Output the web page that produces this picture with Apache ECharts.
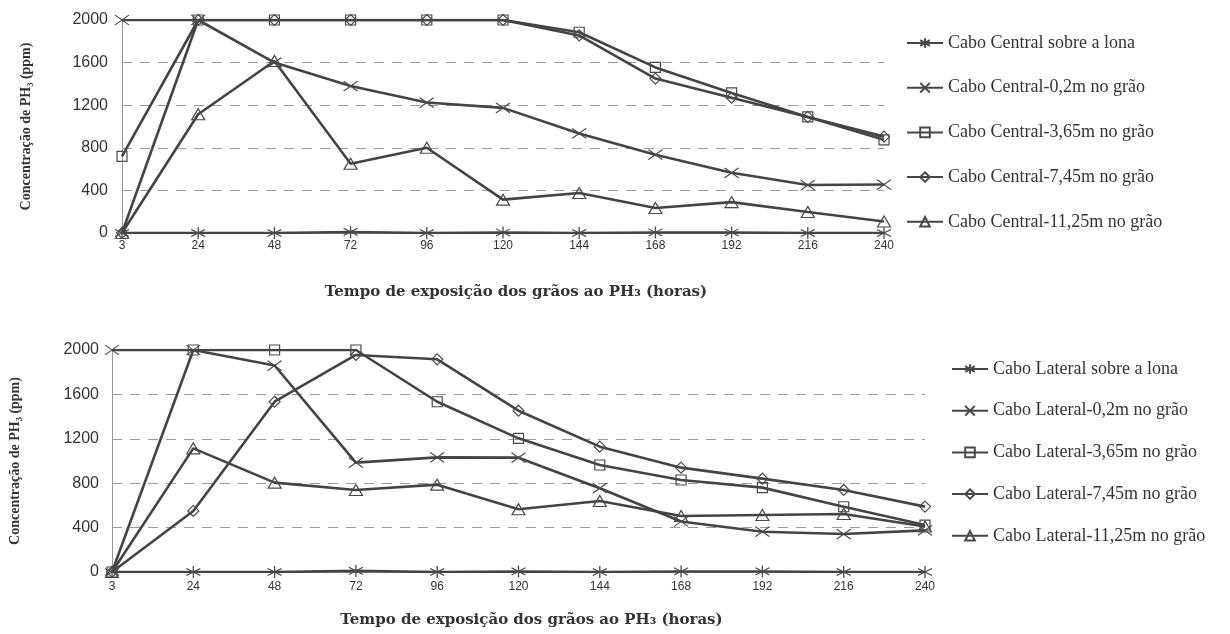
<!DOCTYPE html>
<html>
<head>
<meta charset="utf-8">
<script src="https://cdn.jsdelivr.net/npm/echarts@6/dist/echarts.min.js"></script>
<style>
  html, body { margin: 0; padding: 0; background: #fff; }
  #chart { width: 1230px; height: 634px; }
</style>
</head>
<body>
<div id="chart"></div>
<script>
// Sampling times (hours)
const hours = ['3', '24', '48', '72', '96', '120', '144', '168', '192', '216', '240'];

// Central cable, PH3 concentration (ppm)
const centralNames = [
  'Cabo Central sobre a lona',
  'Cabo Central-0,2m no grão',
  'Cabo Central-3,65m no grão',
  'Cabo Central-7,45m no grão',
  'Cabo Central-11,25m no grão'
];
const centralLona = [0, 0, 0, 10, 0, 5, 0, 5, 5, 0, 0];
const central02   = [2000, 2000, 1600, 1380, 1225, 1175, 935, 735, 565, 450, 455];
const central365  = [720, 2000, 2000, 2000, 2000, 2000, 1885, 1555, 1315, 1090, 875];
const central745  = [0, 2000, 2000, 2000, 2000, 2000, 1855, 1450, 1270, 1090, 905];
const central1125 = [0, 1115, 1615, 650, 800, 313, 375, 235, 290, 197, 108];

// Lateral cable, PH3 concentration (ppm)
const lateralNames = [
  'Cabo Lateral sobre a lona',
  'Cabo Lateral-0,2m no grão',
  'Cabo Lateral-3,65m no grão',
  'Cabo Lateral-7,45m no grão',
  'Cabo Lateral-11,25m no grão'
];
const lateralLona = [0, 0, 0, 10, 0, 5, 0, 5, 5, 0, 0];
const lateral02   = [2000, 2000, 1860, 985, 1033, 1030, 755, 455, 363, 342, 375];
const lateral365  = [0, 2000, 2000, 2000, 1534, 1204, 964, 829, 760, 588, 423];
const lateral745  = [0, 550, 1534, 1955, 1916, 1453, 1129, 940, 841, 739, 589];
const lateral1125 = [0, 1114, 805, 739, 787, 565, 640, 505, 514, 523, 410];

// Concentration ticks
const yTicks = { min: 0, max: 2000, interval: 400 };

// Marker shapes drawn as outlines
const markers = [
  { symbol: 'path://M10,0L10,20M0,4L20,16M0,16L20,4', size: [14, 12] },   // asterisk
  { symbol: 'path://M0,0L20,20M0,20L20,0', size: [14, 10] },              // cross
  { symbol: 'path://M0,0L20,0L20,20L0,20Z', size: [10, 10] },             // square
  { symbol: 'path://M10,0L20,10L10,20L0,10Z', size: [11, 11] },           // diamond
  { symbol: 'path://M10,0L20,17L0,17Z', size: [13, 11] }                  // triangle
];

const lineColor = '#444';
const inkColor = '#333';
const serif = '"Liberation Serif", "Times New Roman", serif';
const sans = '"Liberation Sans", Arial, sans-serif';

function makeSeries(names, values, axisIndex) {
  return names.map((name, i) => ({
    name: name,
    type: 'line',
    xAxisIndex: axisIndex,
    yAxisIndex: axisIndex,
    data: values[i],
    symbol: markers[i].symbol,
    symbolSize: markers[i].size,
    showAllSymbol: true,
    lineStyle: { color: lineColor, width: 2.6 },
    itemStyle: { color: 'none', borderColor: '#4a4a4a', borderWidth: 1.2 },
    emphasis: { disabled: true },
    z: 3
  }));
}

function makeXAxis(gridIndex, nameGap, labelMargin) {
  return {
    type: 'category',
    gridIndex: gridIndex,
    data: hours,
    boundaryGap: false,
    axisLine: { show: true, lineStyle: { color: '#999', width: 1 } },
    axisTick: { show: false },
    axisLabel: { interval: 0, color: inkColor, fontFamily: sans, fontSize: 12, margin: labelMargin },
    splitLine: { show: false },
    name: 'Tempo de exposição dos grãos ao PH₃ (horas)',
    nameLocation: 'middle',
    nameGap: nameGap,
    nameTextStyle: {
      fontFamily: '"DejaVu Serif", serif',
      fontWeight: 'bold',
      fontSize: 15,
      color: inkColor,
      padding: [0, 0, 0, 26]
    }
  };
}

function makeYAxis(gridIndex, labelMargin, nameGap) {
  return {
    type: 'value',
    gridIndex: gridIndex,
    min: yTicks.min,
    max: yTicks.max,
    interval: yTicks.interval,
    axisLine: { show: true, lineStyle: { color: '#999', width: 1 } },
    axisTick: { show: false },
    axisLabel: {
      color: inkColor,
      fontFamily: sans,
      fontSize: 16,
      margin: labelMargin,
      formatter: (v) => String(v)
    },
    splitLine: {
      show: true,
      lineStyle: {
        color: ['transparent', '#9a9a9a', '#9a9a9a', '#9a9a9a', '#9a9a9a', 'transparent'],
        type: [10, 8],
        width: 1.2
      }
    },
    name: 'Concentração de PH₃ (ppm)',
    nameLocation: 'middle',
    nameGap: nameGap,
    nameTextStyle: {
      fontFamily: serif,
      fontWeight: 'bold',
      fontSize: 14,
      color: inkColor
    }
  };
}

function makeLegend(names, left, top, gap) {
  return {
    data: names,
    orient: 'vertical',
    left: left,
    top: top,
    itemWidth: 36,
    itemHeight: 12,
    itemGap: gap,
    selectedMode: false,
    textStyle: { fontFamily: serif, fontSize: 18, color: inkColor, lineHeight: 20 }
  };
}

const chart = echarts.init(document.getElementById('chart'), null, { renderer: 'canvas' });

chart.setOption({
  animation: false,
  backgroundColor: '#fff',
  grid: [
    { left: 122, width: 762, top: 20, height: 213 },
    { left: 110, width: 815, top: 350, height: 222 }
  ],
  xAxis: [makeXAxis(0, 52, 7), makeXAxis(1, 41, 9)],
  yAxis: [makeYAxis(0, 14, 89), makeYAxis(1, 13, 90)],
  legend: [
    makeLegend(centralNames, 901, 28, 24.7),
    makeLegend(lateralNames, 946, 354, 21.7)
  ],
  series: [
    ...makeSeries(centralNames, [centralLona, central02, central365, central745, central1125], 0),
    ...makeSeries(lateralNames, [lateralLona, lateral02, lateral365, lateral745, lateral1125], 1)
  ]
});
</script>
</body>
</html>
